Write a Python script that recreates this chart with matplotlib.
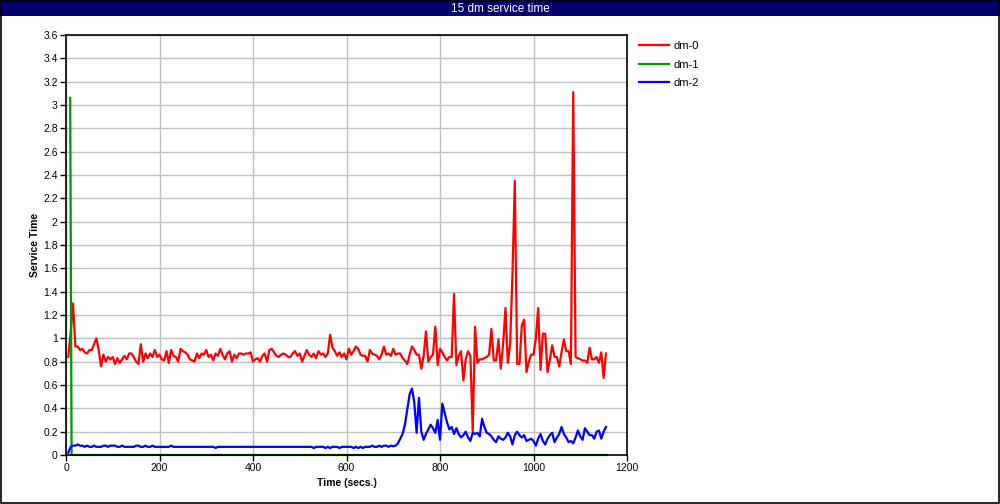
import numpy as np
import matplotlib
matplotlib.use('Agg')
import matplotlib.pyplot as plt
from matplotlib.ticker import FuncFormatter, MultipleLocator
from matplotlib.patches import Rectangle

plt.rcParams['font.family'] = ['Liberation Sans', 'DejaVu Sans']

title = '15 dm service time'
series_names = ['dm-0', 'dm-1', 'dm-2']

# sample times (secs.) for dm-0 and dm-2
times = np.arange(5, 1160, 5)

dm0 = [
    0.84, 1.05, 1.30, 0.93, 0.93, 0.90, 0.91, 0.88, 0.87, 0.90,
    0.90, 0.95, 1.00, 0.90, 0.76, 0.86, 0.80, 0.84, 0.82, 0.84,
    0.78, 0.83, 0.79, 0.82, 0.85, 0.82, 0.87, 0.87, 0.84, 0.80,
    0.78, 0.95, 0.80, 0.87, 0.83, 0.87, 0.84, 0.90, 0.84, 0.86,
    0.82, 0.81, 0.89, 0.79, 0.90, 0.85, 0.84, 0.80, 0.91, 0.89,
    0.88, 0.86, 0.82, 0.81, 0.80, 0.87, 0.83, 0.87, 0.86, 0.90,
    0.84, 0.86, 0.81, 0.87, 0.85, 0.91, 0.86, 0.82, 0.87, 0.89,
    0.80, 0.86, 0.83, 0.87, 0.87, 0.86, 0.87, 0.87, 0.88, 0.80,
    0.82, 0.83, 0.80, 0.85, 0.87, 0.80, 0.90, 0.91, 0.88, 0.85,
    0.84, 0.86, 0.87, 0.86, 0.84, 0.84, 0.87, 0.89, 0.85, 0.87,
    0.80, 0.85, 0.90, 0.86, 0.84, 0.87, 0.83, 0.89, 0.86, 0.87,
    0.84, 0.87, 1.03, 0.92, 0.89, 0.85, 0.88, 0.84, 0.87, 0.82,
    0.91, 0.86, 0.89, 0.93, 0.91, 0.86, 0.85, 0.85, 0.80, 0.90,
    0.87, 0.86, 0.85, 0.82, 0.86, 0.93, 0.86, 0.87, 0.85, 0.91,
    0.86, 0.87, 0.87, 0.83, 0.81, 0.78, 0.86, 0.93, 0.90, 0.86,
    0.86, 0.74, 0.85, 1.06, 0.80, 0.84, 0.86, 1.10, 0.77, 0.91,
    0.88, 0.84, 0.81, 0.84, 0.84, 1.38, 0.77, 0.85, 0.89, 0.64,
    0.82, 0.89, 0.85, 0.20, 1.10, 0.79, 0.82, 0.82, 0.83, 0.84,
    0.86, 1.08, 0.81, 0.81, 0.99, 0.74, 0.95, 1.26, 0.79, 0.95,
    1.55, 2.35, 0.78, 0.78, 1.11, 1.16, 0.71, 0.80, 0.86, 0.86,
    1.00, 1.26, 0.73, 1.04, 1.04, 0.71, 0.82, 0.94, 0.84, 0.84,
    0.76, 0.88, 0.99, 0.89, 0.89, 0.78, 3.11, 0.84, 0.83, 0.82,
    0.81, 0.81, 0.79, 0.92, 0.82, 0.82, 0.84, 0.79, 0.88, 0.66,
    0.87,
]

dm2 = [
    0.02, 0.07, 0.08, 0.08, 0.09, 0.08, 0.08, 0.07, 0.08, 0.07,
    0.07, 0.08, 0.07, 0.07, 0.07, 0.08, 0.08, 0.07, 0.08, 0.08,
    0.08, 0.07, 0.07, 0.08, 0.07, 0.07, 0.07, 0.07, 0.07, 0.08,
    0.08, 0.07, 0.07, 0.08, 0.07, 0.07, 0.08, 0.07, 0.07, 0.07,
    0.07, 0.07, 0.07, 0.07, 0.08, 0.07, 0.07, 0.07, 0.07, 0.07,
    0.07, 0.07, 0.07, 0.07, 0.07, 0.07, 0.07, 0.07, 0.07, 0.07,
    0.07, 0.07, 0.07, 0.06, 0.07, 0.07, 0.07, 0.07, 0.07, 0.07,
    0.07, 0.07, 0.07, 0.07, 0.07, 0.07, 0.07, 0.07, 0.07, 0.07,
    0.07, 0.07, 0.07, 0.07, 0.07, 0.07, 0.07, 0.07, 0.07, 0.07,
    0.07, 0.07, 0.07, 0.07, 0.07, 0.07, 0.07, 0.07, 0.07, 0.07,
    0.07, 0.07, 0.07, 0.07, 0.07, 0.06, 0.07, 0.07, 0.07, 0.07,
    0.06, 0.07, 0.06, 0.07, 0.07, 0.07, 0.06, 0.07, 0.07, 0.07,
    0.07, 0.07, 0.06, 0.07, 0.06, 0.07, 0.06, 0.07, 0.07, 0.07,
    0.08, 0.07, 0.07, 0.08, 0.07, 0.08, 0.08, 0.07, 0.08, 0.075,
    0.08, 0.10, 0.14, 0.18, 0.26, 0.39, 0.52, 0.57, 0.45, 0.19,
    0.49, 0.20, 0.13, 0.18, 0.22, 0.26, 0.23, 0.19, 0.30, 0.13,
    0.44, 0.36, 0.28, 0.22, 0.24, 0.18, 0.23, 0.18, 0.15, 0.17,
    0.20, 0.15, 0.12, 0.19, 0.18, 0.19, 0.16, 0.31, 0.24, 0.19,
    0.18, 0.16, 0.13, 0.11, 0.16, 0.14, 0.13, 0.15, 0.19, 0.16,
    0.09, 0.17, 0.20, 0.17, 0.15, 0.17, 0.12, 0.13, 0.14, 0.12,
    0.08, 0.14, 0.18, 0.12, 0.09, 0.14, 0.17, 0.19, 0.11, 0.15,
    0.18, 0.24, 0.18, 0.15, 0.11, 0.12, 0.10, 0.15, 0.21, 0.16,
    0.13, 0.23, 0.20, 0.17, 0.17, 0.14, 0.20, 0.21, 0.14, 0.20,
    0.24,
]

# dm-1 only has the start-up spike, then sits at zero
dm1_times = [9, 12, 1157]
dm1 = [3.06, 0.0, 0.0]

colors = ['#ff0000', '#009900', '#0000ff']

fig = plt.figure(figsize=(10, 5.04), dpi=100)

# title bar and outer border
fig.patches.append(Rectangle((0, 1 - 16 / 504), 1, 16 / 504, transform=fig.transFigure,
                             facecolor='#000070', edgecolor='none', zorder=0))
fig.patches.append(Rectangle((0.001, 0.002), 0.998, 0.996, transform=fig.transFigure,
                             facecolor='none', edgecolor='black', linewidth=1.2, zorder=5))
fig.text(0.5, 1 - 12 / 504, title, color='white', ha='center', va='baseline', fontsize=8.5)

ax = fig.add_axes([0.066, 49 / 504, 0.561, 420 / 504])
ax.plot(times, dm0, color=colors[0], lw=1.6, label=series_names[0], clip_on=False)
ax.plot(dm1_times, dm1, color=colors[1], lw=1.6, label=series_names[1], clip_on=False)
ax.plot(times, dm2, color=colors[2], lw=1.6, label=series_names[2], clip_on=False)

ax.set_xlim(0, 1200)
ax.set_ylim(0, 3.6)
ax.xaxis.set_major_locator(MultipleLocator(200))
ax.yaxis.set_major_locator(MultipleLocator(0.2))
ax.yaxis.set_major_formatter(FuncFormatter(lambda v, p: '%g' % round(v, 1)))
ax.grid(True, color='#c0c0c0', linewidth=1)
ax.set_axisbelow(True)
ax.tick_params(labelsize=7.5, length=4, width=1, direction='out', pad=2)
for s in ax.spines.values():
    s.set_linewidth(1.2)

ax.set_xlabel('Time (secs.)', fontsize=7.5, fontweight='bold', labelpad=3)
ax.set_ylabel('Service Time', fontsize=7.5, fontweight='bold', labelpad=2)

fig.legend(loc='upper left', bbox_to_anchor=(0.629, 0.938), frameon=False,
           fontsize=8, handlelength=2.7, labelspacing=0.75, handletextpad=0.4)

plt.savefig('out.png', dpi=100)
